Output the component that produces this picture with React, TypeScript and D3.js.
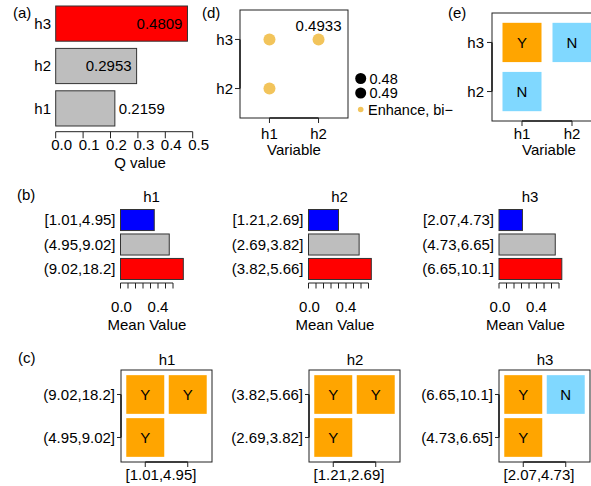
import React from "react";
import * as d3 from "d3";

// (a) Q values
const qVars = ["h3", "h2", "h1"];
const qValues = [0.4809, 0.2953, 0.2159];
const qLabelInside = [true, true, false];
const qTicks = [0, 0.1, 0.2, 0.3, 0.4, 0.5];

// (b) mean value per interval
const bVars = ["h1", "h2", "h3"];
const bIntervals = [
  ["[1.01,4.95]", "(4.95,9.02]", "(9.02,18.2]"],
  ["[1.21,2.69]", "(2.69,3.82]", "(3.82,5.66]"],
  ["[2.07,4.73]", "(4.73,6.65]", "(6.65,10.1]"],
];
const bMeans = [
  [0.36, 0.52, 0.67],
  [0.32, 0.54, 0.67],
  [0.25, 0.6, 0.67],
];
const bTickCounts = [8, 9, 9];
const bTickStep = 0.08;
const bTickLabels = [0, 0.4];
const bColors = ["#0000FF", "#BEBEBE", "#FF0000"];

// (c) interaction grid per variable
const cRows = [
  ["(9.02,18.2]", "(4.95,9.02]"],
  ["(3.82,5.66]", "(2.69,3.82]"],
  ["(6.65,10.1]", "(4.73,6.65]"],
];
const cCols = [
  ["[1.01,4.95]", "(4.95,9.02]"],
  ["[1.21,2.69]", "(2.69,3.82]"],
  ["[2.07,4.73]", "(4.73,6.65]"],
];
const cGrid = [
  [["Y", "Y"], ["Y", ""]],
  [["Y", "Y"], ["Y", ""]],
  [["Y", "N"], ["Y", ""]],
];

// (d) interaction detector
const dX = ["h1", "h2"];
const dY = ["h3", "h2"];
const dPoints = [
  { x: "h1", y: "h3", label: "" },
  { x: "h2", y: "h3", label: "0.4933" },
  { x: "h1", y: "h2", label: "" },
];
const dLegend = ["0.48", "0.49"];
const dLegendType = "Enhance, bi\u2212";

// (e) ecological detector
const eX = ["h1", "h2"];
const eY = ["h3", "h2"];
const eGrid = [["Y", "N"], ["N", ""]];

const font = "'Liberation Sans', Arial, Helvetica, sans-serif";
const ORANGE = "#FFA500";
const BLUE = "#80D8FF";
const GOLD = "#F2C45B";
const LINE = "#222";

const tileFill = (v: string) => (v === "Y" ? ORANGE : BLUE);

function PanelA() {
  const x = d3.scaleLinear().domain([0, 0.5]).range([55.7, 192.7]);
  const y = d3.scaleBand().domain(qVars).range([6, 126]).paddingInner(0.17);
  const bw = y.bandwidth();
  return (
    <g>
      <text x={13} y={13} dy="0.35em">(a)</text>
      {qVars.map((v, i) => (
        <g key={v}>
          <rect x={x(0)} y={y(v)} width={x(qValues[i]) - x(0)} height={bw}
            fill={v === "h3" ? "#FF0000" : "#BEBEBE"} stroke="#333" />
          <text x={51} y={y(v)! + bw / 2} dy="0.35em" textAnchor="end">{v}</text>
          <text
            x={qLabelInside[i] ? x(qValues[i]) - 5 : x(qValues[i]) + 4}
            y={y(v)! + bw / 2} dy="0.35em"
            textAnchor={qLabelInside[i] ? "end" : "start"}>
            {qValues[i].toFixed(4)}
          </text>
        </g>
      ))}
      <line x1={x(0)} x2={x(0.5)} y1={131.7} y2={131.7} stroke={LINE} />
      {qTicks.map((t) => (
        <g key={t}>
          <line x1={x(t)} x2={x(t)} y1={131.7} y2={138.3} stroke={LINE} />
          <text x={x(t) + 6} y={145} dy="0.35em" textAnchor="middle">{t.toFixed(1)}</text>
        </g>
      ))}
      <text x={140} y={163} dy="0.35em" textAnchor="middle">Q value</text>
    </g>
  );
}

function PanelB() {
  const origins = [120.5, 308.5, 499];
  return (
    <g>
      <text x={17} y={195} dy="0.35em">(b)</text>
      {bVars.map((name, i) => {
        const x0 = origins[i];
        const x = d3.scaleLinear().domain([0, 0.64]).range([x0, x0 + 60]);
        const y = d3.scaleBand().domain(bIntervals[i]).range([209.5, 279.5]).paddingInner(0.14);
        const bw = y.bandwidth();
        const ticks = d3.range(bTickCounts[i]).map((k) => k * bTickStep);
        return (
          <g key={name}>
            <text x={x0 + 31} y={197} dy="0.35em" textAnchor="middle">{name}</text>
            {bIntervals[i].map((lab, j) => (
              <g key={lab}>
                <rect x={x(0)} y={y(lab)} width={x(bMeans[i][j]) - x(0)} height={bw}
                  fill={bColors[j]} stroke="#333" />
                <text x={x0 - 5} y={y(lab)! + bw / 2} dy="0.35em" textAnchor="end">{lab}</text>
              </g>
            ))}
            <line x1={x(0)} x2={x(ticks[ticks.length - 1])} y1={283} y2={283} stroke={LINE} />
            {ticks.map((t) => (
              <line key={t} x1={x(t)} x2={x(t)} y1={283} y2={288.5} stroke={LINE} />
            ))}
            {bTickLabels.map((t) => (
              <text key={t} x={x(t) + (t === 0 ? 1 : 0)} y={306.5} dy="0.35em" textAnchor="middle">
                {t.toFixed(1)}
              </text>
            ))}
            <text x={x0 + 26.5} y={324.5} dy="0.35em" textAnchor="middle">Mean Value</text>
          </g>
        );
      })}
    </g>
  );
}

function PanelC() {
  const lefts = [121, 309, 499];
  return (
    <g>
      <text x={18} y={358} dy="0.35em">(c)</text>
      {bVars.map((name, i) => {
        const L = lefts[i];
        const x = d3.scaleBand().domain(cCols[i]).range([L, L + 91]).paddingInner(0.106).paddingOuter(0.124);
        const y = d3.scaleBand().domain(cRows[i]).range([370, 462]).paddingInner(0.1).paddingOuter(0.12);
        const bw = x.bandwidth();
        const bh = y.bandwidth();
        const cx = (c: string) => x(c)! + bw / 2;
        const cy = (r: string) => y(r)! + bh / 2;
        return (
          <g key={name}>
            <text x={L + 46} y={360} dy="0.35em" textAnchor="middle">{name}</text>
            {cRows[i].map((r, ri) =>
              cCols[i].map((c, ci) => {
                const v = cGrid[i][ri][ci];
                if (!v) return null;
                return (
                  <g key={r + c}>
                    <rect x={x(c)} y={y(r)} width={bw} height={bh} fill={tileFill(v)} />
                    <text x={cx(c)} y={cy(r)} dy="0.35em" textAnchor="middle">{v}</text>
                  </g>
                );
              })
            )}
            <rect x={L} y={370} width={91} height={92} fill="none" stroke={LINE} />
            <line x1={L} x2={L} y1={cy(cRows[i][0])} y2={cy(cRows[i][1])} stroke={LINE} strokeWidth={1.6} />
            {cRows[i].map((r) => (
              <g key={r}>
                <line x1={L - 4} x2={L} y1={cy(r)} y2={cy(r)} stroke={LINE} />
                <text x={L - 6} y={cy(r)} dy="0.35em" textAnchor="end">{r}</text>
              </g>
            ))}
            <line x1={cx(cCols[i][0])} x2={cx(cCols[i][1])} y1={462} y2={462} stroke={LINE} strokeWidth={1.6} />
            {cCols[i].map((c) => (
              <line key={c} x1={cx(c)} x2={cx(c)} y1={462} y2={467} stroke={LINE} />
            ))}
            <text x={L + 40} y={474.5} dy="0.35em" textAnchor="middle">{cCols[i][0]}</text>
          </g>
        );
      })}
    </g>
  );
}

function PanelD() {
  const x = d3.scalePoint().domain(dX).range([240, 348]).padding(0.6);
  const y = d3.scalePoint().domain(dY).range([10, 118]).padding(0.6);
  return (
    <g>
      <text x={202} y={13} dy="0.35em">(d)</text>
      <rect x={240} y={10} width={108} height={108} fill="none" stroke={LINE} />
      {dPoints.map((p) => (
        <g key={p.x + p.y}>
          <circle cx={x(p.x)} cy={y(p.y)} r={6} fill={GOLD} />
          {p.label && (
            <text x={x(p.x)} y={y(p.y)! - 8} textAnchor="middle">{p.label}</text>
          )}
        </g>
      ))}
      <line x1={240} x2={240} y1={y("h3")} y2={y("h2")} stroke={LINE} strokeWidth={1.6} />
      {dY.map((v) => (
        <g key={v}>
          <line x1={235} x2={240} y1={y(v)} y2={y(v)} stroke={LINE} />
          <text x={233} y={y(v)} dy="0.35em" textAnchor="end">{v}</text>
        </g>
      ))}
      <line x1={x("h1")} x2={x("h2")} y1={118} y2={118} stroke={LINE} strokeWidth={1.6} />
      {dX.map((v) => (
        <g key={v}>
          <line x1={x(v)} x2={x(v)} y1={118} y2={123} stroke={LINE} />
          <text x={x(v)} y={133.5} dy="0.35em" textAnchor="middle">{v}</text>
        </g>
      ))}
      <text x={294} y={149.5} dy="0.35em" textAnchor="middle">Variable</text>
      {dLegend.map((l, i) => (
        <g key={l} fontSize={14.5}>
          <circle cx={360.7} cy={78.5 + i * 14.5} r={5.5} fill="#000" />
          <text x={369.5} y={78.5 + i * 14.5} dy="0.35em">{l}</text>
        </g>
      ))}
      <circle cx={360.7} cy={109.5} r={2.8} fill={GOLD} />
      <text x={368} y={109.5} dy="0.35em" fontSize={14.5}>{dLegendType}</text>
    </g>
  );
}

function PanelE() {
  const x = d3.scaleBand().domain(eX).range([492, 602]).paddingInner(0.22).paddingOuter(0.21);
  const y = d3.scaleBand().domain(eY).range([13, 121]).paddingInner(0.2).paddingOuter(0.2);
  const bw = x.bandwidth();
  const bh = y.bandwidth();
  const cx = (c: string) => x(c)! + bw / 2;
  const cy = (r: string) => y(r)! + bh / 2;
  return (
    <g>
      <text x={448} y={13} dy="0.35em">(e)</text>
      {eY.map((r, ri) =>
        eX.map((c, ci) => {
          const v = eGrid[ri][ci];
          if (!v) return null;
          return (
            <g key={r + c}>
              <rect x={x(c)} y={y(r)} width={bw} height={bh} fill={tileFill(v)} />
              <text x={cx(c)} y={cy(r)} dy="0.35em" textAnchor="middle">{v}</text>
            </g>
          );
        })
      )}
      <rect x={492} y={13} width={110} height={108} fill="none" stroke={LINE} />
      <line x1={492} x2={492} y1={cy("h3")} y2={cy("h2")} stroke={LINE} strokeWidth={1.6} />
      {eY.map((v) => (
        <g key={v}>
          <line x1={487} x2={492} y1={cy(v)} y2={cy(v)} stroke={LINE} />
          <text x={484} y={cy(v)} dy="0.35em" textAnchor="end">{v}</text>
        </g>
      ))}
      <line x1={cx("h1")} x2={cx("h2")} y1={121} y2={121} stroke={LINE} strokeWidth={1.6} />
      {eX.map((v) => (
        <g key={v}>
          <line x1={cx(v)} x2={cx(v)} y1={121} y2={126} stroke={LINE} />
          <text x={cx(v)} y={133.5} dy="0.35em" textAnchor="middle">{v}</text>
        </g>
      ))}
      <text x={549} y={149.5} dy="0.35em" textAnchor="middle">Variable</text>
    </g>
  );
}

export default function App() {
  return (
    <svg width={591} height={486} fontFamily={font} fontSize={15} fill="#000"
      style={{ position: "absolute", left: 0, top: 0, background: "#fff" }}>
      <PanelA />
      <PanelD />
      <PanelE />
      <PanelB />
      <PanelC />
    </svg>
  );
}
